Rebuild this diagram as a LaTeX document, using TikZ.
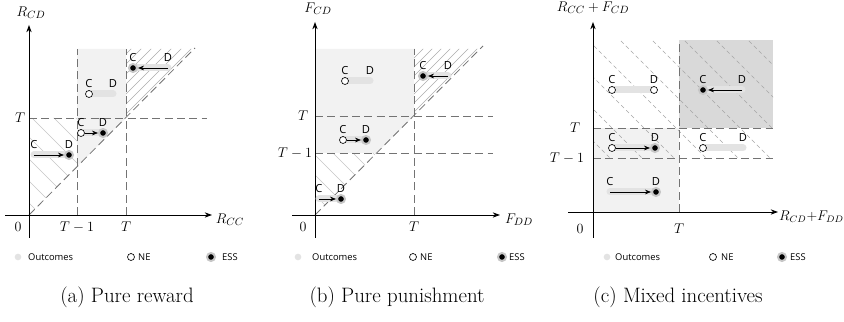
\documentclass[tikz,border=0pt]{standalone}
\usepackage{fontspec}
\newfontfamily\uifont{Open Sans}
\usetikzlibrary{arrows.meta,positioning}

\definecolor{regionlight}{gray}{0.95}
\definecolor{regiondark}{gray}{0.85}
\definecolor{outcomebar}{gray}{0.89}
\definecolor{guidegray}{gray}{0.45}

\tikzset{
  axis/.style={line width=0.7pt, -{Stealth[length=2.2mm,width=1.6mm]}},
  guide/.style={draw=guidegray, line width=0.7pt, dash pattern=on 2.4mm off 1.3mm},
  hatchline/.style={draw=gray!45, line width=0.4pt},
  hatchdash/.style={draw=gray!70, line width=0.4pt, dash pattern=on 1.2mm off 0.9mm},
  outcome/.style={draw=outcomebar, line width=2.1mm, line cap=round},
  ne/.style={circle, draw=black, fill=white, line width=0.55pt, inner sep=0pt, minimum size=2.1mm},
  ess/.style={circle, fill=black, draw=black!22, line width=0.6mm, inner sep=0pt, minimum size=2.4mm},
  keydot/.style={circle, fill=outcomebar, inner sep=0pt, minimum size=2mm},
  move/.style={-{Stealth[length=1.8mm,width=1.4mm]}, line width=0.6pt},
  lbl/.style={font=\uifont\fontsize{9.5}{10}\selectfont, inner sep=0pt, above=1.8mm},
  key/.style={font=\uifont\fontsize{8}{9}\selectfont, anchor=west, inner sep=0pt},
  mathlbl/.style={font=\fontsize{12.5}{14}\selectfont, inner sep=0pt},
  caption/.style={font=\fontsize{17.8}{20}\selectfont, inner sep=0pt},
}

\begin{document}
\begin{tikzpicture}[x=0.3mm, y=0.3mm]
\useasboundingbox (0,0) rectangle (844,322);

% (a) pure reward
\begin{scope}[shift={(29,107)}]
  \fill[regionlight] (48,48) -- (48,166) -- (97,166) -- (97,97) -- cycle;
  \begin{scope}
    \clip (0,0) -- (0,97) -- (48,97) -- (48,48) -- cycle;
    \foreach \k in {12,34,...,170} \draw[hatchline] (\k,0) -- ++(-120,120);
  \end{scope}
  \begin{scope}
    \clip (97,97) -- (97,166) -- (166,166) -- cycle;
    \foreach \k in {4,14,...,74} \draw[hatchline, draw=gray!65] (90,90+\k) -- ++(90,90);
  \end{scope}
  \draw[guide] (48,0) -- (48,166);
  \draw[guide] (97,0) -- (97,166);
  \draw[guide] (0,97) -- (178,97);
  \draw[guide] (0,0) -- (166,167);
  \draw[axis] (-24,0) -- (183,0);
  \draw[axis] (0,-23) -- (0,190);
  \node[mathlbl] (aY) at (2,202) {$R_{CD}$};
  \node[mathlbl] (aX) at (201,-5) {$R_{CC}$};
  \node[mathlbl] (a0) at (-11,-12) {$0$};
  \node[mathlbl] (aTm) at (48,-12) {$T-1$};
  \node[mathlbl] (aTx) at (97,-12) {$T$};
  \node[mathlbl] (aTy) at (-9,97) {$T$};

  \coordinate (a1c) at (5,60);    \coordinate (a1d) at (40,60);
  \coordinate (a2c) at (52,82);   \coordinate (a2d) at (74,82);
  \coordinate (a3c) at (60,121);  \coordinate (a3d) at (84,121);
  \coordinate (a4c) at (104,147); \coordinate (a4d) at (139,147);
  \foreach \i in {1,...,4} \draw[outcome] (a\i c) -- (a\i d);
  \node[ess] (a1D) at (a1d) {};
  \node[ne] (a2C) at (a2c) {};
  \node[ess] (a2D) at (a2d) {};
  \node[ne] (a3C) at (a3c) {};
  \node[ess] (a4C) at (a4c) {};
  \draw[move] (a1c) -- (a1D);
  \draw[move] (a2C) -- (a2D);
  \draw[move] (a4d) -- (a4C);
  \foreach \i in {1,...,4} {
    \node[lbl] (a\i ct) at (a\i c) {C};
    \node[lbl] (a\i dt) at (a\i d) {D};
  }

  \node[keydot] (aK1) at (-11,-42) {};
  \node[key] (aK1t) at (-1,-42) {Outcomes};
  \node[ne] (aK2) at (102,-42) {};
  \node[key] (aK2t) at (109,-42) {NE};
  \node[ess] (aK3) at (182,-42) {};
  \node[key] (aK3t) at (193,-42) {ESS};
  \node[caption] (aCap) at (98,-82) {(a) Pure reward};
\end{scope}

% (b) pure punishment
\begin{scope}[shift={(315,107)}]
  \fill[regionlight] (0,62) -- (0,166) -- (99,166) -- (99,99) -- (62,62) -- cycle;
  \begin{scope}
    \clip (0,0) -- (0,62) -- (62,62) -- cycle;
    \foreach \k in {20,40,...,120} \draw[hatchline] (\k,0) -- ++(-120,120);
  \end{scope}
  \begin{scope}
    \clip (99,99) -- (99,166) -- (166,166) -- cycle;
    \foreach \k in {4,13,...,76} \draw[hatchline, draw=gray!65] (90,90+\k) -- ++(90,90);
  \end{scope}
  \draw[guide] (99,0) -- (99,166);
  \draw[guide] (0,99) -- (178,99);
  \draw[guide] (0,62) -- (178,62);
  \draw[guide] (0,0) -- (168,169);
  \draw[axis] (-23,0) -- (185,0);
  \draw[axis] (0,-23) -- (0,193);
  \node[mathlbl] (bY) at (3,206) {$F_{CD}$};
  \node[mathlbl] (bX) at (204,-5) {$F_{DD}$};
  \node[mathlbl] (b0) at (-12,-12) {$0$};
  \node[mathlbl] (bTx) at (99,-12) {$T$};
  \node[mathlbl] (bTy) at (-12,99) {$T$};
  \node[mathlbl] (bTm) at (-20,62) {$T-1$};

  \coordinate (b1c) at (4,16);    \coordinate (b1d) at (26,16);
  \coordinate (b2c) at (28,75);   \coordinate (b2d) at (51,75);
  \coordinate (b3c) at (30,134);  \coordinate (b3d) at (55,134);
  \coordinate (b4c) at (108,139); \coordinate (b4d) at (133,139);
  \foreach \i in {1,...,4} \draw[outcome] (b\i c) -- (b\i d);
  \node[ess] (b1D) at (b1d) {};
  \node[ne] (b2C) at (b2c) {};
  \node[ess] (b2D) at (b2d) {};
  \node[ne] (b3C) at (b3c) {};
  \node[ess] (b4C) at (b4c) {};
  \draw[move] (b1c) -- (b1D);
  \draw[move] (b2C) -- (b2D);
  \draw[move] (b4d) -- (b4C);
  \foreach \i in {1,...,4} {
    \node[lbl] (b\i ct) at (b\i c) {C};
    \node[lbl] (b\i dt) at (b\i d) {D};
  }

  \node[keydot] (bK1) at (-17,-42) {};
  \node[key] (bK1t) at (-3,-42) {Outcomes};
  \node[ne] (bK2) at (98,-42) {};
  \node[key] (bK2t) at (105,-42) {NE};
  \node[ess] (bK3) at (187,-42) {};
  \node[key] (bK3t) at (194,-42) {ESS};
  \node[caption] (bCap) at (82,-82) {(b) Pure punishment};
\end{scope}

% (c) mixed incentives
\begin{scope}[shift={(593,110)}]
  \fill[regionlight] (0,0) rectangle (86,84);
  \fill[regiondark] (86,84) rectangle (180,172);
  \begin{scope}
    \clip (0,54) rectangle (180,172);
    \foreach \k in {71,103,...,360} \draw[hatchdash] (\k,0) -- ++(-180,180);
  \end{scope}
  \draw[guide] (86,0) -- (86,172);
  \draw[guide] (0,84) -- (180,84);
  \draw[guide] (0,54) -- (180,54);
  \draw[axis] (-25,0) -- (185,0);
  \draw[axis] (0,-26) -- (0,190);
  \node[mathlbl] (cY) at (0,204) {$R_{CC}+F_{CD}$};
  \node[mathlbl, font=\fontsize{12}{14}\selectfont, anchor=west] (cX) at (186,-5) {$R_{CD}{+}F_{DD}$};
  \node[mathlbl] (c0) at (-13,-17) {$0$};
  \node[mathlbl] (cTx) at (86,-17) {$T$};
  \node[mathlbl] (cTy) at (-18,84) {$T$};
  \node[mathlbl] (cTm) at (-26,54) {$T-1$};

  \coordinate (c1c) at (17,20);   \coordinate (c1d) at (63,20);
  \coordinate (c2c) at (19,64);   \coordinate (c2d) at (62,64);
  \coordinate (c3c) at (19,122);  \coordinate (c3d) at (61,122);
  \coordinate (c4c) at (110,122); \coordinate (c4d) at (149,122);
  \coordinate (c5c) at (110,64);  \coordinate (c5d) at (150,64);
  \foreach \i in {1,...,5} \draw[outcome] (c\i c) -- (c\i d);
  \node[ess] (c1D) at (c1d) {};
  \node[ne] (c2C) at (c2c) {};
  \node[ess] (c2D) at (c2d) {};
  \node[ne] (c3C) at (c3c) {};
  \node[ne] (c3D) at (c3d) {};
  \node[ess] (c4C) at (c4c) {};
  \node[ne] (c5C) at (c5c) {};
  \draw[move] (c1c) -- (c1D);
  \draw[move] (c2C) -- (c2D);
  \draw[move] (c4d) -- (c4C);
  \foreach \i in {1,...,5} {
    \node[lbl] (c\i ct) at (c\i c) {C};
    \node[lbl] (c\i dt) at (c\i d) {D};
  }

  \node[keydot] (cK1) at (14,-45) {};
  \node[key] (cK1t) at (22,-45) {Outcomes};
  \node[ne] (cK2) at (120,-45) {};
  \node[key] (cK2t) at (128,-45) {NE};
  \node[ess] (cK3) at (189,-45) {};
  \node[key] (cK3t) at (197,-45) {ESS};
  \node[caption] (cCap) at (85,-85) {(c) Mixed incentives};
\end{scope}
\end{tikzpicture}
\end{document}
